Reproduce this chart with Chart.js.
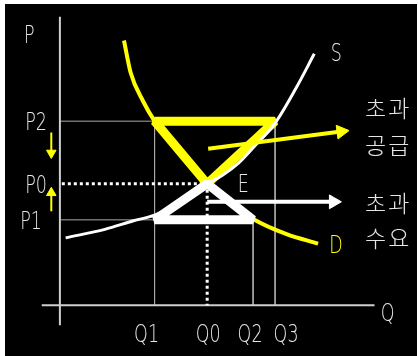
<!DOCTYPE html>
<html>
<head>
<meta charset="utf-8">
<script src="https://cdn.jsdelivr.net/npm/chart.js@4"></script>
<style>
html, body { margin: 0; padding: 0; background: #fff; overflow: hidden; width: 418px; height: 356px; }
#wrap { position: absolute; left: 5px; top: 4px; width: 412px; height: 352px; background: #000; }
</style>
</head>
<body>
<div id="wrap"><canvas id="chart"></canvas></div>
<script>
// Quantities and prices marked on the axes
const quantityTicks = ['Q1', 'Q0', 'Q2', 'Q3'];
const quantityValues = [9.9, 15.4, 20.2, 22.5];
const priceTicks = ['P2', 'P0', 'P1'];
const priceValues = [19.4, 12.8, 9.0];

// Supply curve S
const supplyQ = [0.6, 4.7, 7.7, 9.9, 12.7, 15.4, 17.0, 18.7, 20.3, 22.5, 24.7, 26.6];
const supplyP = [7.1, 8.0, 8.9, 9.5, 10.9, 12.8, 13.7, 15.0, 16.7, 19.2, 22.9, 26.5];

// Demand curve D
const demandQ = [6.7, 7.4, 8.7, 9.9, 12.7, 15.4, 17.8, 20.2, 23.7, 27.0];
const demandP = [27.9, 24.5, 21.5, 19.4, 15.7, 12.8, 10.8, 9.1, 7.5, 6.5];

// Arrows (start, head centre)
const excessSupplyArrow = [[15.5, 16.5], [29.4, 18.3]];
const excessDemandArrow = [[15.4, 10.9], [28.6, 10.9]];
const priceDownArrow = [[-0.9, 18.2], [-0.9, 16.05]];
const priceUpArrow = [[-0.9, 9.9], [-0.9, 11.85]];

// Axis extents
const xAxisRange = [-1.9, 32.9];
const yAxisRange = [-2.1, 30.4];

const [Q1, Q0, Q2, Q3] = quantityValues;
const [P2, P0, P1] = priceValues;

const pts = (xs, ys) => xs.map((v, i) => ({ x: v, y: ys[i] }));
const seg = (x1, y1, x2, y2) => [{ x: x1, y: y1 }, { x: x2, y: y2 }];

function line(data, color, width, extra) {
    return Object.assign({
        data: data,
        showLine: true,
        borderColor: color,
        backgroundColor: color,
        borderWidth: width,
        pointRadius: 0,
        tension: 0,
        fill: false
    }, extra || {});
}

function arrow(a, color, width, head) {
    const ang = Math.atan2(a[1][1] - a[0][1], a[1][0] - a[0][0]);
    return line(seg(a[0][0], a[0][1], a[1][0], a[1][1]), color, width, {
        pointRadius: [0, head],
        pointStyle: 'triangle',
        rotation: 90 - ang * 180 / Math.PI,
        pointBackgroundColor: color,
        pointBorderColor: color,
        pointBorderWidth: 1,
        order: 0
    });
}

const grid = '#a8a8a8';
const yellow = '#ffff00';

const datasets = [
    // grid lines
    line(seg(0, P2, Q3, P2), grid, 1, { order: 9 }),
    line(seg(0, P1, Q2, P1), grid, 1, { order: 9 }),
    line(seg(Q1, P2, Q1, 0), grid, 1, { order: 9 }),
    line(seg(Q2, P1, Q2, 0), grid, 1, { order: 9 }),
    line(seg(Q3, P2, Q3, 0), grid, 1, { order: 9 }),
    // axes
    line(seg(0, yAxisRange[0], 0, yAxisRange[1]), '#cfcfcf', 2, { order: 8 }),
    line(seg(xAxisRange[0], 0, xAxisRange[1], 0), '#cfcfcf', 2, { order: 8 }),
    // equilibrium dotted lines
    line(seg(0.2, P0, Q0, P0), '#ffffff', 3, { borderDash: [3, 3], order: 7 }),
    line(seg(Q0, P0, Q0, 0), '#ffffff', 3, { borderDash: [3, 3], order: 7 }),
    // demand
    line(pts(demandQ, demandP), yellow, 4, { cubicInterpolationMode: 'monotone', order: 6 }),
    // excess supply triangle
    line([{ x: (Q1 + Q3) / 2, y: P2 }, { x: Q3, y: P2 }, { x: Q0, y: P0 }, { x: Q1, y: P2 }, { x: (Q1 + Q3) / 2, y: P2 }],
        yellow, 9, { borderJoinStyle: 'bevel', order: 5 }),
    // supply
    line(pts(supplyQ, supplyP), '#ffffff', 3, { cubicInterpolationMode: 'monotone', order: 4 }),
    // excess demand triangle
    line([{ x: (Q1 + Q2) / 2, y: P1 }, { x: Q2, y: P1 }, { x: Q0, y: P0 }, { x: Q1, y: P1 }, { x: (Q1 + Q2) / 2, y: P1 }],
        '#ffffff', 9, { borderJoinStyle: 'bevel', order: 3 }),
    // arrows
    arrow(excessSupplyArrow, yellow, 4, 8),
    arrow(excessDemandArrow, '#ffffff', 4, 8),
    arrow(priceDownArrow, yellow, 2, 5.5),
    arrow(priceUpArrow, yellow, 2, 5.5)
];

const labelPlugin = {
    id: 'labels',
    afterDatasetsDraw(chart) {
        const { ctx, scales: { x, y } } = chart;
        const ox = x.getPixelForValue(0);
        const oy = y.getPixelForValue(0);

        const txt = (s, px, py, color, align) => {
            ctx.save();
            ctx.font = '200 25px "DejaVu Sans"';
            ctx.fillStyle = color;
            ctx.textAlign = align;
            ctx.textBaseline = 'alphabetic';
            ctx.translate(px, py + 9);
            ctx.scale(0.7, 1);
            ctx.fillText(s, 0, 0);
            ctx.restore();
        };
        const kor = (s, px, py) => {
            ctx.save();
            ctx.font = '300 23px "Noto Sans CJK KR"';
            ctx.letterSpacing = '2px';
            ctx.fillStyle = '#e6e6e6';
            ctx.textAlign = 'left';
            ctx.textBaseline = 'alphabetic';
            ctx.fillText(s, px, py + 9);
            ctx.restore();
        };

        const light = '#e6e6e6';
        txt('P', ox - 36, 30, light, 'left');
        const pOff = [13, 13, 18];
        priceTicks.forEach((t, i) => txt(t, ox - pOff[i], y.getPixelForValue(priceValues[i]), light, 'right'));
        const qOff = [-8, 1, -3, 11];
        quantityTicks.forEach((t, i) => txt(t, x.getPixelForValue(quantityValues[i]) + qOff[i], oy + 28, light, 'center'));
        txt('Q', x.getPixelForValue(xAxisRange[1]) + 13, oy + 7, light, 'center');
        txt('S', x.getPixelForValue(supplyQ[supplyQ.length - 1]) + 22, y.getPixelForValue(supplyP[supplyP.length - 1]) - 2, light, 'center');
        txt('D', x.getPixelForValue(demandQ[demandQ.length - 1]) + 18, y.getPixelForValue(demandP[demandP.length - 1]) + 0, yellow, 'center');
        txt('E', x.getPixelForValue(Q0) + 36, y.getPixelForValue(P0) - 1, light, 'center');

        kor('초과', 360, 104);
        kor('공급', 360, 141);
        kor('초과', 360, 199);
        kor('수요', 360, 234);
    }
};

new Chart(document.getElementById('chart'), {
    type: 'scatter',
    data: { datasets: datasets },
    options: {
        responsive: true,
        maintainAspectRatio: false,
        animation: false,
        events: [],
        layout: { padding: 0 },
        plugins: { legend: { display: false }, tooltip: { enabled: false } },
        scales: {
            x: { type: 'linear', min: -4.8, max: 36.4, display: false },
            y: { type: 'linear', min: -4.4, max: 30.8, display: false }
        }
    },
    plugins: [labelPlugin]
});
</script>
</body>
</html>
